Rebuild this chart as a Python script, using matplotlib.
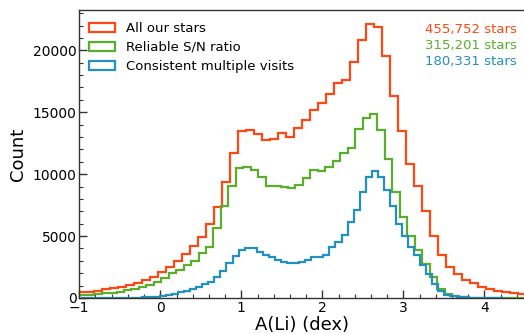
import numpy as np
import matplotlib
matplotlib.use("Agg")
import matplotlib.pyplot as plt

# histogram counts, one list per sample
# every sample has its own binning (lo edge, bin width)
all_lo, all_w = -1.02, 0.09875
all_counts = [470, 520, 590, 690, 800, 910, 1030, 1180, 1420, 1720,
              2100, 2520, 2980, 3550, 4200, 4950, 6000, 7310, 9380, 11720,
              13500, 13600, 13280, 12720, 12850, 13330, 13000, 13750, 14400, 15160,
              15780, 16430, 17370, 17580, 19060, 20810, 22150, 21880, 19540, 16290,
              13480, 10820, 9050, 7040, 5000, 3470, 2470, 1940, 1450, 1180,
              910, 700, 560, 500, 430, 330]

snr_lo, snr_w = -1.0, 0.092
snr_counts = [240, 270, 310, 370, 440, 520, 620, 740, 880, 1050,
              1320, 1590, 1990, 2260, 2660, 3010, 3660, 4140, 5620, 7420,
              9030, 10510, 10590, 10350, 9780, 9030, 9030, 8980, 8900, 9110,
              9650, 10320, 10240, 10590, 11070, 11670, 12120, 13680, 14570, 14890,
              13550, 11260, 8580, 6500, 5000, 3870, 2740, 1670, 700, 300,
              130, 60, 30, 15, 10, 5, 3, 2, 1, 1]

multi_lo, multi_w = -0.976, 0.0747
multi_counts = [0, 0, 0, 0, 0, 5, 8, 12, 15, 20,
                40, 70, 110, 170, 250, 350, 450, 580, 740, 920,
                1120, 1320, 1720, 2200, 2800, 3400, 3900, 4060, 4000, 3700,
                3450, 3300, 3050, 2930, 2800, 2850, 2900, 3050, 3300, 3350,
                3470, 4080, 4500, 5100, 6160, 7100, 8580, 9780, 10270, 9780,
                8710, 7420, 5970, 5000, 4140, 3470, 2700, 1900, 1150, 550,
                280, 140, 70, 40, 20, 10, 5, 3, 2, 1]

labels = ['All our stars', 'Reliable S/N ratio', 'Consistent multiple visits']
totals = ['455,752 stars', '315,201 stars', '180,331 stars']
colors = ['#ff4713', '#5aae2b', '#2290c0']

plt.rcParams['axes.edgecolor'] = '#333333'
plt.rcParams['axes.linewidth'] = 1.0

fig = plt.figure(figsize=(5.24, 3.34), dpi=100)
ax = fig.add_axes([0.1513, 0.1078, 0.8505, 0.8622])

samples = [(all_lo, all_w, all_counts), (snr_lo, snr_w, snr_counts),
           (multi_lo, multi_w, multi_counts)]
for (lo, w, counts), lab, col in zip(samples, labels, colors):
    counts = np.array(counts, dtype=float)
    edges = lo + w * np.arange(len(counts) + 1)
    ax.hist(edges[:-1], bins=edges, weights=counts, histtype='step',
            color=col, lw=1.6, label=lab)

ax.set_xlim(-1, 4.5)
ax.set_ylim(0, 23250)
ax.set_xlabel('A(Li) (dex)', fontsize=13, labelpad=1)
ax.set_ylabel('Count', fontsize=13, labelpad=4)

ax.set_yticks([0, 5000, 10000, 15000, 20000])
ax.set_yticks(np.arange(0, 23001, 1000), minor=True)
ax.set_xticks([-1, 0, 1, 2, 3, 4])
ax.set_xticks(np.arange(-1, 4.51, 0.2), minor=True)
ax.tick_params(which='both', direction='in', labelsize=10, colors='#333333',
               labelcolor='black')
ax.tick_params(which='major', length=6, width=1.0, pad=2)
ax.tick_params(which='minor', length=3, width=0.8)

ax.legend(loc='upper left', frameon=False, fontsize=9.5,
          bbox_to_anchor=(-0.005, 1.0), handlelength=2.0, labelspacing=0.45)

ys = [0.934, 0.878, 0.820]
for t, col, y in zip(totals, colors, ys):
    ax.text(0.982, y, t, transform=ax.transAxes, ha='right', va='center',
            color=col, fontsize=9.5)

fig.savefig('out.png', dpi=100)
